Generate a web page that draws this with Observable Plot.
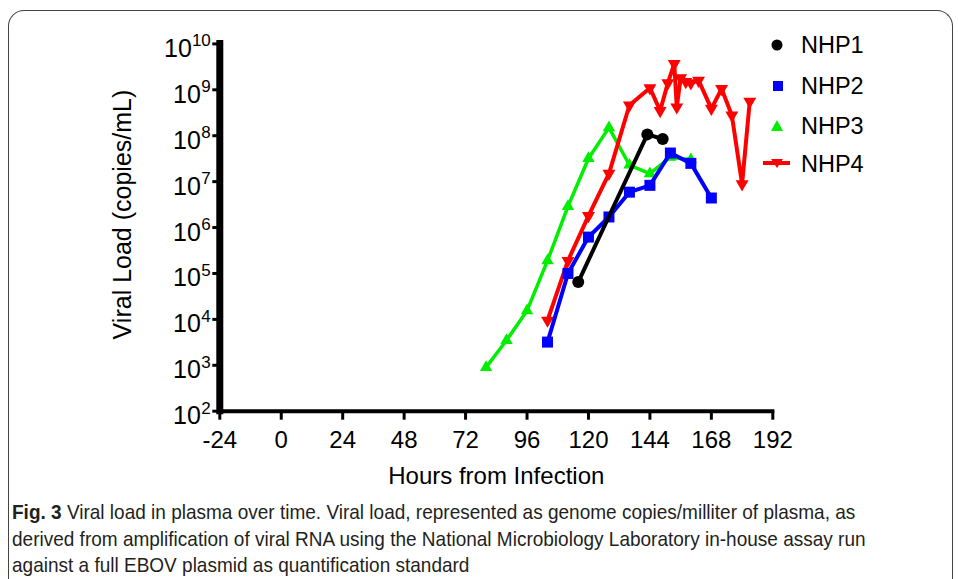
<!DOCTYPE html>
<html>
<head>
<meta charset="utf-8">
<script src="https://cdn.jsdelivr.net/npm/d3@7"></script>
<script src="https://cdn.jsdelivr.net/npm/@observablehq/plot@0.6"></script>
<style>
  html, body { margin: 0; padding: 0; background: #fff; }
  body { width: 958px; height: 579px; position: relative; overflow: hidden; font-family: "Liberation Sans", Arial, sans-serif; }
  #frame { position: absolute; left: 8px; top: 10px; width: 945px; height: 600px; border: 1.5px solid #444; border-bottom: none; border-radius: 16px 16px 0 0; box-sizing: border-box; }
  #chart { position: absolute; left: 0; top: 0; }
  #legend { position: absolute; left: 760px; top: 30px; font-size: 23.5px; color: #000; }
  .li { position: absolute; left: 0; height: 30px; white-space: nowrap; }
  .li svg { position: absolute; left: 0; top: 0; }
  .li span { position: absolute; left: 41px; top: 1px; line-height: 28px; }
  #caption { position: absolute; left: 12px; top: 499px; font-family: "Liberation Sans", Arial, sans-serif; font-size: 21px; color: #231f20; transform: scaleX(0.905); transform-origin: 0 0; }
  #caption div { white-space: nowrap; line-height: 26.5px; }
</style>
</head>
<body>
<div id="frame"></div>
<div id="chart"></div>
<div id="legend"></div>
<div id="caption">
  <div><b>Fig. 3</b> Viral load in plasma over time. Viral load, represented as genome copies/milliter of plasma, as</div>
  <div>derived from amplification of viral RNA using the National Microbiology Laboratory in-house assay run</div>
  <div>against a full EBOV plasmid as quantification standard</div>
</div>
<script>
// ---- data ----
const seriesNames = ["NHP1", "NHP2", "NHP3", "NHP4"];
const seriesColors = ["#000000", "#0000ff", "#00ee00", "#ff0000"];

const nhp1Hours = [116, 143, 149];
const nhp1Load  = [6.5e4, 1.07e8, 8.5e7];

const nhp2Hours = [104, 112, 120, 128, 136, 144, 152, 160, 168];
const nhp2Load  = [3.2e3, 1.0e5, 6.2e5, 1.7e6, 5.9e6, 8.3e6, 4.2e7, 2.5e7, 4.4e6];

const nhp3Hours = [80, 88, 96, 104, 112, 120, 128, 136, 144, 152, 160];
const nhp3Load  = [900, 3.5e3, 1.55e4, 1.9e5, 2.9e6, 3.2e7, 1.5e8, 2.3e7, 1.5e7, 3.4e7, 3.0e7];

const nhp4Hours = [104, 112, 120, 128, 136, 144, 148, 151, 153.5, 154.5, 156, 158, 160, 163, 168, 172, 176, 180, 183];
const nhp4Load  = [9.5e3, 1.9e5, 1.8e6, 1.5e7, 4.6e8, 1.1e9, 3.5e8, 1.4e9, 3.7e9, 4.2e8, 1.8e9, 1.5e9, 1.4e9, 1.6e9, 3.9e8, 1.05e9, 2.8e8, 8.9e6, 5.6e8];

const xTicks = [-24, 0, 24, 48, 72, 96, 120, 144, 168, 192];
const yTicks = [1e2, 1e3, 1e4, 1e5, 1e6, 1e7, 1e8, 1e9, 1e10];
const xLabel = "Hours from Infection";
const yLabel = "Viral Load (copies/mL)";

// ---- build ----
const toRows = (name, hs, vs) => hs.map((h, i) => ({name, h, v: vs[i]}));
const d1 = toRows("NHP1", nhp1Hours, nhp1Load);
const d2 = toRows("NHP2", nhp2Hours, nhp2Load);
const d3s = toRows("NHP3", nhp3Hours, nhp3Load);
const d4 = toRows("NHP4", nhp4Hours, nhp4Load);

const expRows = yTicks.map(v => ({v, e: String(Math.round(Math.log10(v)))}));
const oneDigit = expRows.filter(d => d.e.length === 1);
const twoDigit = expRows.filter(d => d.e.length === 2);

const font = "Liberation Sans, Arial, sans-serif";

const chart = Plot.plot({
  width: 958,
  height: 500,
  marginLeft: 219.3,
  marginRight: 185.7,
  marginTop: 43.4,
  marginBottom: 89.3,
  style: {fontFamily: font, background: "transparent", overflow: "visible"},
  x: {domain: [-24, 192], axis: null, label: null},
  y: {type: "log", domain: [1e2, 1e10], axis: null, label: null},
  marks: [
    // series (green, red, blue, black)
    Plot.line(d3s, {x: "h", y: "v", stroke: seriesColors[2], strokeWidth: 3.5, strokeLinejoin: "miter"}),
    Plot.dot(d3s, {x: "h", y: "v", symbol: "triangle", r: 4.6, fill: seriesColors[2], stroke: "none"}),
    Plot.line(d4, {x: "h", y: "v", stroke: seriesColors[3], strokeWidth: 4, strokeLinejoin: "miter"}),
    Plot.dot(d4, {x: "h", y: "v", symbol: "triangle", rotate: 180, r: 4.8, fill: seriesColors[3], stroke: "none"}),
    Plot.line(d2, {x: "h", y: "v", stroke: seriesColors[1], strokeWidth: 4, strokeLinejoin: "miter"}),
    Plot.dot(d2, {x: "h", y: "v", symbol: "square", r: 6.2, fill: seriesColors[1], stroke: "none"}),
    Plot.line(d1, {x: "h", y: "v", stroke: seriesColors[0], strokeWidth: 4}),
    Plot.dot(d1, {x: "h", y: "v", symbol: "circle", r: 6, fill: seriesColors[0], stroke: "none"}),

    // axes
    Plot.axisX({ticks: xTicks, tickSize: 9, strokeWidth: 3, text: null, label: null}),
    Plot.text(xTicks, {x: d => d, frameAnchor: "bottom", dy: 29, lineAnchor: "middle", text: d => String(d), fontSize: 24, fill: "#000"}),
    Plot.axisY({ticks: yTicks, tickSize: 7, strokeWidth: 3, text: null, label: null}),
    Plot.text(oneDigit, {y: "v", frameAnchor: "left", dx: -19, dy: 5, textAnchor: "end", text: () => "10", fontSize: 25, fill: "#000"}),
    Plot.text(oneDigit, {y: "v", frameAnchor: "left", dx: -9, dy: -3, textAnchor: "end", text: "e", fontSize: 17, fill: "#000"}),
    Plot.text(twoDigit, {y: "v", frameAnchor: "left", dx: -28, dy: 5, textAnchor: "end", text: () => "10", fontSize: 25, fill: "#000"}),
    Plot.text(twoDigit, {y: "v", frameAnchor: "left", dx: -9, dy: -3, textAnchor: "end", text: "e", fontSize: 17, fill: "#000"}),
    Plot.ruleY([1e2], {stroke: "#000", strokeWidth: 4, strokeLinecap: "square"}),
    Plot.ruleX([-24], {stroke: "#000", strokeWidth: 7, strokeLinecap: "square"}),

    // titles
    Plot.text([xLabel], {frameAnchor: "bottom", dy: 65, lineAnchor: "middle", textAnchor: "middle", text: d => d, fontSize: 24, fill: "#000"}),
    Plot.text([yLabel], {frameAnchor: "left", dx: -97, dy: -13, rotate: -90, lineAnchor: "middle", textAnchor: "middle", text: d => d, fontSize: 25, fill: "#000"})
  ]
});
document.getElementById("chart").appendChild(chart);

// legend
const legend = document.getElementById("legend");
const legendTops = [0, 41, 81, 119];
const sym = [
  '<circle cx="17" cy="15" r="5.5" fill="#000"/>',
  '<rect x="13" y="10" width="10" height="10" fill="#0000ff"/>',
  '<path d="M17,9 L23,20 L11,20 Z" fill="#00ee00"/>',
  '<line x1="3" y1="14" x2="30" y2="14" stroke="#ff0000" stroke-width="4"/><path d="M11,10 L23,10 L17,19 Z" fill="#ff0000"/>'
];
seriesNames.forEach((n, i) => {
  const div = document.createElement("div");
  div.className = "li";
  div.style.top = legendTops[i] + "px";
  div.innerHTML = `<svg width="34" height="30">${sym[i]}</svg><span>${n}</span>`;
  legend.appendChild(div);
});
</script>
</body>
</html>
